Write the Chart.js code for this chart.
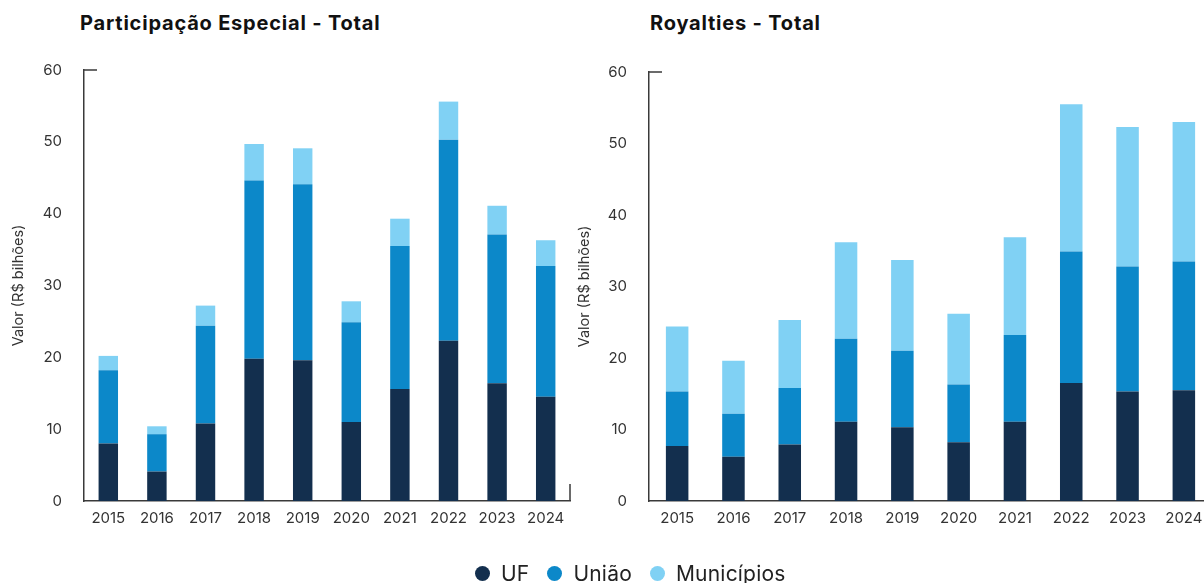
<!DOCTYPE html>
<html lang="pt-BR">
<head>
<meta charset="utf-8">
<title>Participação Especial e Royalties</title>
<script src="https://cdn.jsdelivr.net/npm/chart.js@4.4.1/dist/chart.umd.min.js"></script>
<style>
  html, body {
    margin: 0;
    padding: 0;
    width: 1204px;
    height: 583px;
    overflow: hidden;
    background: #ffffff;
    font-family: "Inter", "Open Sans", sans-serif;
  }
  .chart-title {
    position: absolute;
    top: 11px;
    font-size: 20px;
    font-weight: 700;
    letter-spacing: 0.8px;
    color: #111111;
    white-space: nowrap;
  }
  .chart-box {
    position: absolute;
    top: 0;
  }
  .legend {
    position: absolute;
    left: 475px;
    top: 561px;
    display: flex;
    align-items: center;
    font-size: 21px;
    letter-spacing: 0.2px;
    color: #222222;
    white-space: nowrap;
  }
  .legend-item {
    display: flex;
    align-items: center;
    margin-right: 18px;
  }
  .legend-dot {
    width: 15px;
    height: 15px;
    border-radius: 50%;
    margin-right: 11px;
  }
</style>
</head>
<body>
<div class="chart-title" style="left: 80px">Participação Especial - Total</div>
<div class="chart-title" style="left: 650px">Royalties - Total</div>

<div class="chart-box" style="left: 0px">
  <canvas id="peChart" width="600" height="583"></canvas>
</div>
<div class="chart-box" style="left: 566px">
  <canvas id="royaltiesChart" width="660" height="583"></canvas>
</div>

<div class="legend" id="legend"></div>

<script>
const years = ["2015", "2016", "2017", "2018", "2019", "2020", "2021", "2022", "2023", "2024"]
const seriesNames = ["UF", "União", "Municípios"]
const seriesColors = ["#132f4e", "#0c88c9", "#80d1f4"]
const yTicks = [0, 10, 20, 30, 40, 50, 60]

// Participação Especial, R$ bilhões
const peUF = [8.0, 4.1, 10.8, 19.8, 19.6, 11.0, 15.6, 22.3, 16.4, 14.5]
const peUniao = [10.2, 5.2, 13.6, 24.8, 24.5, 13.9, 19.9, 28.0, 20.7, 18.2]
const peMunicipios = [2.0, 1.1, 2.8, 5.1, 5.0, 2.9, 3.8, 5.3, 4.0, 3.6]

// Royalties, R$ bilhões
const royUF = [7.7, 6.2, 7.9, 11.1, 10.3, 8.2, 11.1, 16.5, 15.3, 15.5]
const royUniao = [7.6, 6.0, 7.9, 11.6, 10.7, 8.1, 12.1, 18.4, 17.5, 18.0]
const royMunicipios = [9.1, 7.4, 9.5, 13.5, 12.7, 9.9, 13.7, 20.6, 19.5, 19.5]

const axisColor = "#3a3a3a"
const labelColor = "#333333"
const fontFamily = "'Inter', 'Open Sans', sans-serif"

// small bracket ends on the axes: top of y axis, and optionally right end of x axis
const axisEnds = {
  id: "axisEnds",
  afterDraw(chart, args, opts) {
    const { ctx, chartArea } = chart
    const { left, top, right, bottom } = chartArea
    ctx.save()
    ctx.strokeStyle = axisColor
    ctx.lineWidth = 1.5
    ctx.beginPath()
    ctx.moveTo(left, top)
    ctx.lineTo(left + 13, top)
    if (opts.rightTick) {
      ctx.moveTo(right, bottom)
      ctx.lineTo(right, bottom - 17)
    }
    ctx.stroke()
    ctx.restore()
  },
}

function buildDatasets(values) {
  return values.map((data, i) => ({
    label: seriesNames[i],
    data: data,
    backgroundColor: seriesColors[i],
    borderWidth: 0,
    barPercentage: 0.4,
    categoryPercentage: 1,
  }))
}

function createStackedChart(canvasId, values, layout) {
  const ctx = document.getElementById(canvasId)
  if (!ctx) return

  return new Chart(ctx, {
    type: "bar",
    data: {
      labels: years,
      datasets: buildDatasets(values),
    },
    options: {
      responsive: false,
      animation: false,
      layout: {
        padding: { top: layout.top, right: layout.right, bottom: 0, left: 0 },
      },
      plugins: {
        legend: { display: false },
        tooltip: { enabled: false },
        axisEnds: { rightTick: layout.rightTick },
      },
      scales: {
        x: {
          stacked: true,
          grid: { display: false, drawTicks: false },
          border: { display: true, color: axisColor, width: 1.5 },
          ticks: {
            color: labelColor,
            padding: 8,
            maxRotation: 0,
            font: { family: fontFamily, size: 15 },
          },
          afterFit: (scale) => {
            scale.height = 82
          },
        },
        y: {
          stacked: true,
          min: yTicks[0],
          max: yTicks[yTicks.length - 1],
          grid: { display: false, drawTicks: false },
          border: { display: true, color: axisColor, width: 1.5 },
          afterBuildTicks: (scale) => {
            scale.ticks = yTicks.map((v) => ({ value: v }))
          },
          ticks: {
            color: labelColor,
            padding: 22,
            font: { family: fontFamily, size: 15 },
          },
          title: {
            display: true,
            text: "Valor (R$ bilhões)",
            color: labelColor,
            padding: { top: 10, bottom: 0 },
            font: { family: fontFamily, size: 14.5 },
          },
          afterFit: (scale) => {
            scale.width = layout.yWidth
          },
        },
      },
    },
    plugins: [axisEnds],
  })
}

createStackedChart("peChart", [peUF, peUniao, peMunicipios], {
  top: 70,
  right: 30,
  yWidth: 84,
  rightTick: true,
})

createStackedChart("royaltiesChart", [royUF, royUniao, royMunicipios], {
  top: 72,
  right: 14,
  yWidth: 83,
  rightTick: false,
})

// shared legend under both charts
const legendEl = document.getElementById("legend")
legendEl.innerHTML = seriesNames
  .map(
    (name, i) => `
        <div class="legend-item">
            <span class="legend-dot" style="background: ${seriesColors[i]}"></span>
            <span>${name}</span>
        </div>
    `,
  )
  .join("")
</script>
</body>
</html>
